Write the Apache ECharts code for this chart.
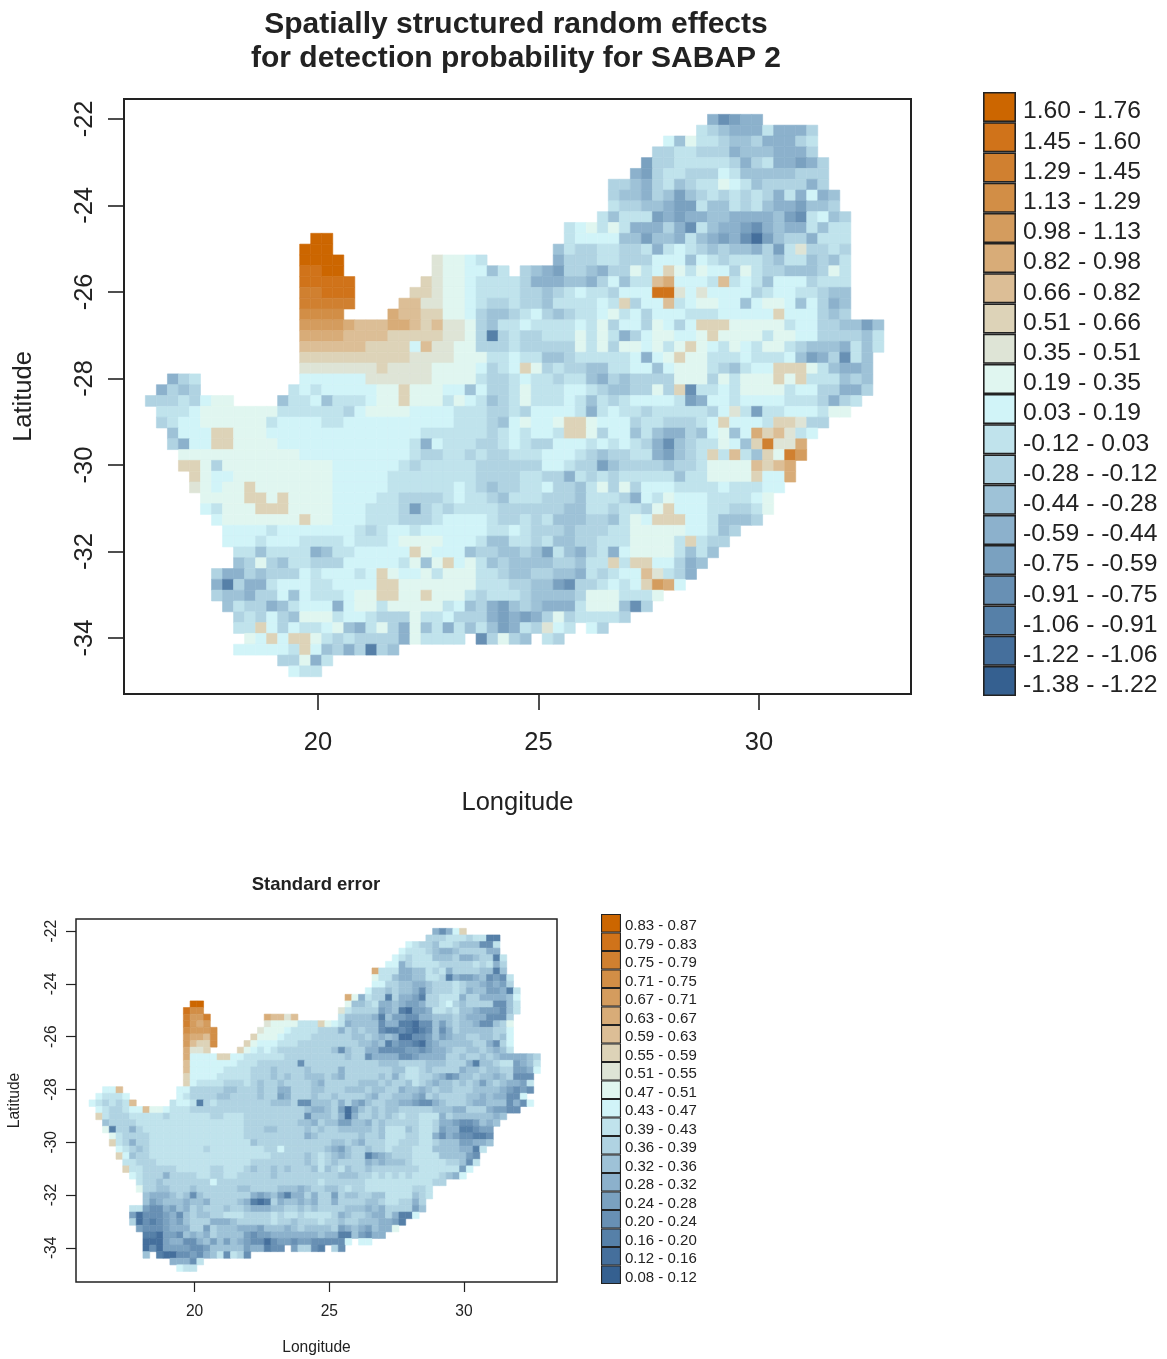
<!DOCTYPE html>
<html><head><meta charset="utf-8">
<style>html,body{margin:0;padding:0;background:#fff}#c{width:1167px;height:1359px}#c canvas{filter:blur(0.5px)}</style>
<script src="https://cdn.jsdelivr.net/npm/echarts@6/dist/echarts.min.js"></script>
</head><body><div id="c"></div>
<script>
// class colours, lowest class first
const classColors=["#356090","#456F9C","#5680A8","#6890B4","#7AA1C0","#8CB1CC","#9EC2D7","#B0D3E2","#C0E3EC","#D1F4F8","#E0F6F0","#DEE4D6","#DDD3B8","#DCBE96","#D8AC78","#D49C5E","#D28E46","#D08030","#D0731A","#CC6600"];
const topLegend=["1.60 - 1.76","1.45 - 1.60","1.29 - 1.45","1.13 - 1.29","0.98 - 1.13","0.82 - 0.98","0.66 - 0.82","0.51 - 0.66","0.35 - 0.51","0.19 - 0.35","0.03 - 0.19","-0.12 - 0.03","-0.28 - -0.12","-0.44 - -0.28","-0.59 - -0.44","-0.75 - -0.59","-0.91 - -0.75","-1.06 - -0.91","-1.22 - -1.06","-1.38 - -1.22"];
const lowLegend=["0.83 - 0.87","0.79 - 0.83","0.75 - 0.79","0.71 - 0.75","0.67 - 0.71","0.63 - 0.67","0.59 - 0.63","0.55 - 0.59","0.51 - 0.55","0.47 - 0.51","0.43 - 0.47","0.39 - 0.43","0.36 - 0.39","0.32 - 0.36","0.28 - 0.32","0.24 - 0.28","0.20 - 0.24","0.16 - 0.20","0.12 - 0.16","0.08 - 0.12"];
const lonTicks=[20,25,30];
const latTicks=[-34,-32,-30,-28,-26,-24,-22];
// grid definition (quarter-degree cells)
const lonFirst=16.21, latFirst=-22.02, cellSize=0.25;
// class index of each cell in base 20 (0 = lowest, j = highest), '.' = no data; one entry per latitude row
const topStart=[51,50,47,46,45,44,42,42,42,41,38,15,14,14,14,14,14,14,14,14,14,14,14,14,2,1,0,1,1,2,2,3,3,4,4,5,5,6,7,7,8,8,6,6,6,7,8,8,9,8,12,13];
const topCells=[
"53455","87655585557","96a88766755578","778877756665557","47788888757855457","547887779866666777","7765786788a986777757","766576467878787585956","877665448668786554667","86888454556655556438967","89a8a855575386554356558688",
"jj....................."+"89999664665865453146775888",
"jjj...................."+"6877887785898767665748b7787",
"jjjj........baa98......"+"577788777999698788876886768",
"iijj........baa9968."+"7654776577a89ca8a997a8776667a8",
"iiiii......cbaa98888"+"7555665796"+"88de9998d8"+"9869997888",
"hhiii.....ccbaa98888"+"7767898879"+"99iib9b999"+"9789988766",
"hhhhh....ddbbaa98778"+"776888898c"+"799d89aa99"+"69aa969756",
"gggg....eddccaa97667"+"89767889a8"+"9799988899"+"999c999767",
"ffffedddeedcdbba7688"+"9888898a79"+"97a979ccca"+"aaaa899776646",
"eeeeddddcccccbba7278"+"77888a8a85"+"79aa99acaa"+"aa8aa99777768",
"ddddddcccc9dbbaa7778"+"77777a8a7a"+"a9a8aca98a"+"98aa876665868",
"ccccccccccbbbbaaa889"+"8866788888"+"959acaa888"+"988896457386",
"bbbbbbbcbbbbaaaa9789"+"ca78776688"+"9969aaa876"+"899ccca86556",
"578.........999999bbbbbbaaaa8778"+"9887886576"+"7777aaa7a8"+"aaacac888676",
"5767........89899999aacaaa9969778"+"a888998766"+"77a7c38898"+"aaaa89977557",
"777879aa....688968889aacaaa8a98678"+"a888986878"+"9999845998"+"99998887578",
"8889aaaaaaa88888879aaaa9999888778"+"7999985898"+"878888879b"+"84889998aa",
"7899aaaaaa"+"8"+"9999"+"88"+"9999999999"+"888769"+"a99acca999"+"78877789c9"+"998ccb77",
"6999ccaaa"+"99999999999999"+"888888"+"789"+"8998cca799"+"68655769a6"+"9ecdb89",
"7599ccaaaa"+"999999999999"+"8598887789"+"8779998989"+"87536788a9"+"6chbbe",
"aaaaaaaaaaa"+"9999999999"+"8778878778"+"8899987677"+"8854678c8d"+"86cahf",
"cca7"+"aaaaaaaaaa"+"999999"+"87"+"88888"+"7777"+"7799877467"+"7776778aaa"+"adcde",
"ca99"+"aaaaaaaaa"+"99999"+"88888888"+"7777"+"8877587878"+"8888688aaa"+"ac99e",
"ba9aac"+"aaaaaaa"+"99999"+"888888"+"987677"+"8897768a7a"+"7999888898"+"8899",
"aaaa"+"ccac"+"aaaa"+"9999"+"8877778988768"+"8877768887"+"598a999888"+"89a",
"98aaaccc"+"aaaa"+"999"+"88874787888877"+"7777668878"+"87ac999887"+"78a",
"9"+"aaaaaaa"+"c"+"aa"+"999"+"8887778"+"9999"+"877"+"8786667768"+"a9ccc99866"+"67",
"9999"+"8"+"9999999"+"878998"+"999999"+"889"+"8777677788"+"aaaaa99867",
"9998"+"999"+"8888"+"9"+"888"+"9"+"aaaa"+"999"+"8668"+"8786677888"+"aaaa8c877",
"886"+"8888"+"56"+"88"+"99999"+"c"+"a"+"999"+"67766"+"7648657859"+"aaaa8686",
"67a7688"+"777"+"99999"+"8"+"a6ac9a8676"+"66677688c8"+"cc99756",
"75576"+"777"+"9899989ca99a8aaa"+"8876"+"6776658789"+"9db875",
"52755899988"+"9999"+"cc"+"aaaaaaa"+"8887"+"7664377898"+"9cfe9",
"766577969888"+"9aa"+"cc"+"aa"+"c"+"aaa"+"87888"+"766667aaa888a",
"6877568"+"999"+"5"+"9"+"aa"+"8"+"aaaaa"+"8967546"+"765558aaa637",
"787976"+"aaa8998"+"777a889"+"777545"+"457a788887",
"88c97988"+"9a658a75"+"a6858686"+"45"+"87b98.97",
"a9c9cca8"+"7877775a"+"8888.37a7"+"6.87",
"999998c96757276","77a58","988"];
const lowStart=[51,50,47,46,45,44,42,42,42,41,38,15,14,14,14,14,14,14,14,14,14,14,14,14,2,1,0,1,1,2,2,3,3,4,4,5,5,6,7,7,8,8,6,6,6,7,8,8,8,8,12,13];
const lowCells=[
"5359c","77788878822","98776887666338","988876556777755","98788866675567728","995788887777787857",
"e8885566"+"87857777"+"6626","a8865566"+"88725445"+"63438","99776655"+"67778766"+"54547","97767665"+"36777875"+"6644528",
"ea587727"+"55427788"+"85775555"+"69",
"jj....................."+"a6678556"+"54457789"+"76777733"+"68",
"igg...................."+"b8777745"+"62144588"+"78665444"+"368",
"hffh........eddbd......"+"86666526"+"44335566"+"67655533"+"37",
"hfef........baaaa888"+"ca985666"+"63552213"+"36467665"+"3367a",
"gfffg......baaa98888"+"77757676"+"63223212"+"36357666"+"66779",
"feedg.....caaa988887"+"77777667"+"65651133"+"46456677"+"66769",
"fdccg....ca999888777"+"77777766"+"56243321"+"45666667"+"75379",
"ebbc....ca9898777777"+"77636775"+"53333443"+"45567766"+"76568",
"e9999cc"+"9988888877777"+"77776773"+"55553345"+"55577677"+"676555567",
"d9999999"+"888"+"777777"+"377"+"77777777"+"76667777"+"66677752"+"667884568",
"d99999"+"8888"+"7776777767"+"77757777"+"77766887"+"67777566"+"766774459",
"c9999"+"88888"+"7776767766"+"67657777"+"76757887"+"76534667"+"66567333",
"c98888"+"77787677"+"677776"+"57777766"+"67677687"+"65667676"+"46765548",
"99d........"+"99"+"77777"+"66"+"777"+"677557776"+"67776667"+"66775665"+"67667776"+"66654343",
"98889......."+"98"+"7777"+"66"+"7777"+"677457776"+"77677776"+"57766654"+"76777766"+"5655339",
"987878d....."+"89982787"+"77777776"+"667336"+"66757546"+"77665543"+"35677765"+"56663539",
"9877899daa9"+"888"+"7777777777777777"+"765"+"56741467"+"67667777"+"76665577"+"754433",
"c8777888887"+"888888"+"77"+"888"+"777777777"+"36"+"66751577"+"67678778"+"88576666"+"6656",
"67777"+"8888888888888888"+"77777777"+"665"+"76644665"+"76777778"+"87554334"+"656",
"a27757"+"888888888888888"+"77766777767"+"67766666"+"76888678"+"87455223"+"44",
"a877778"+"8888888888888"+"777777777"+"56"+"77777767"+"76888778"+"85354332"+"23",
"c875778"+"88888888888888"+"6"+"777777777"+"77667657"+"77887778"+"87666445"+"56",
"987678"+"8888888"+"7"+"88888888"+"77977777"+"76546776"+"77877788"+"86666552"+"8",
"c96778"+"88888888888888888"+"77777"+"67"+"87656772"+"45677788"+"88666643",
"88777"+"88888888888888"+"77777777"+"67"+"87677775"+"65666788"+"88877638",
"c8877777"+"88888"+"77"+"888"+"76776767776"+"86786776"+"77777778"+"8888849",
"98777577"+"77887788"+"777776"+"777777"+"77766677"+"87878788"+"887659",
"8776777777797"+"77777777777777"+"87777778"+"88888888"+"877",
"a77667776"+"777777"+"667777666567"+"76678778"+"88888877"+"8",
"655567636"+"7777777"+"5456425575"+"77476677"+"66888867"+"8",
"6456665665"+"7777"+"652127566565"+"77577776"+"67887757",
"88433546"+"57677767"+"76555667"+"7676"+"77776665"+"65777746",
"41333453"+"67667788"+"87777878"+"8788"+"88756776"+"5575229",
"71323454"+"67775556"+"77777877"+"6777"+"87767766"+"65542",
"43334555"+"77476665"+"55466656"+"766"+"66745654"+"655a",
"22144365"+"65766664"+"34455555"+"55"+"6552264355",
"11145533"+"56464654"+"33134434"+"43"+"33339.99",
"13144443"+"34666664"+"55233.47"+"73"+"2.73",
"6.21133435683873","55538","988"];

function cells(starts,rows){
  const out=[];
  rows.forEach((row,r)=>{
    for(let i=0;i<row.length;i++){
      if(row[i]==='.')continue;
      out.push([lonFirst+cellSize*(starts[r]+i),latFirst-cellSize*r,parseInt(row[i],20)]);
    }
  });
  return out;
}
const ink='#222';
function renderCell(params,api){
  const lon=api.value(0),lat=api.value(1),k=api.value(2);
  const a=api.coord([lon-cellSize/2,lat+cellSize/2]),b=api.coord([lon+cellSize/2,lat-cellSize/2]);
  return {type:'rect',shape:{x:a[0],y:a[1],width:b[0]-a[0],height:b[1]-a[1]},
    style:{fill:classColors[k],stroke:classColors[k],lineWidth:0.6}};
}
const font='"Liberation Sans",Arial,sans-serif';
function mapAxes(g,fs,tick,lw,lblX,lblY,nameX,nameY){
  return {
   x:{type:'value',gridIndex:g,min:15.6,max:33.45,name:'Longitude',nameLocation:'middle',nameGap:nameX,
      nameTextStyle:{fontFamily:font,fontSize:fs,color:ink},splitLine:{show:false},
      axisLine:{show:false},
      axisTick:{show:true,length:tick,lineStyle:{color:ink,width:lw},customValues:lonTicks},
      axisLabel:{show:true,margin:lblX,fontFamily:font,fontSize:fs,color:ink,customValues:lonTicks}},
   y:{type:'value',gridIndex:g,min:-35.295,max:-21.54,name:'Latitude',nameLocation:'middle',nameGap:nameY,nameRotate:90,
      nameTextStyle:{fontFamily:font,fontSize:fs,color:ink},splitLine:{show:false},
      axisLine:{show:false},
      axisTick:{show:true,length:tick,lineStyle:{color:ink,width:lw},customValues:latTicks},
      axisLabel:{show:true,margin:lblY,rotate:90,align:'center',verticalAlign:'bottom',fontFamily:font,fontSize:fs,color:ink,customValues:latTicks}}
  };
}
const topA=mapAxes(0,25.5,16,1.6,36,26,96,87);
const lowA=mapAxes(1,15.6,10,1.2,22,16,58,53);
function legendBars(labels,xi,yi,lw){
  return {type:'bar',xAxisIndex:xi,yAxisIndex:yi,barWidth:'100%',silent:true,
    data:labels.map((l,i)=>({value:1,itemStyle:{color:classColors[19-i],borderColor:ink,borderWidth:lw}}))};
}
function legendAxes(g,labels,fs,m,pad){
  return {
    x:{type:'value',gridIndex:g,min:0,max:1,show:false},
    y:{type:'category',gridIndex:g,inverse:true,position:'right',data:labels,axisLine:{show:false},axisTick:{show:false},
       axisLabel:{interval:0,margin:m,align:'left',formatter:v=>'{t|'+v+'}',
         rich:{t:{fontFamily:font,fontSize:fs,color:ink,padding:[pad,0,0,0]}}}}
  };
}
const lgA=legendAxes(2,topLegend,24.7,7,9),lgB=legendAxes(3,lowLegend,15,4,6);
const chart=echarts.init(document.getElementById('c'),null,{renderer:'canvas'});
chart.setOption({
  animation:false,backgroundColor:'#fff',
  title:[
    {text:'Spatially structured random effects\nfor detection probability for SABAP 2',left:511,top:3,textAlign:'center',
     textStyle:{fontFamily:font,fontWeight:'bold',fontSize:30,lineHeight:34,color:ink}},
    {text:'Standard error',left:311,top:870,textAlign:'center',textStyle:{fontFamily:font,fontWeight:'bold',fontSize:18.5,color:ink}}
  ],
  grid:[
    {left:124,top:99,width:787,height:595,show:true,borderColor:ink,borderWidth:2,backgroundColor:'transparent',outerBoundsMode:'none'},
    {left:76,top:919,width:481,height:363,show:true,borderColor:ink,borderWidth:1.5,backgroundColor:'transparent',outerBoundsMode:'none'},
    {left:983,top:92,width:33,height:604,outerBoundsMode:'none'},
    {left:601,top:914,width:20,height:370,outerBoundsMode:'none'}
  ],
  xAxis:[topA.x,lowA.x,lgA.x,lgB.x],
  yAxis:[topA.y,lowA.y,lgA.y,lgB.y],
  series:[
    {type:'custom',xAxisIndex:0,yAxisIndex:0,renderItem:renderCell,encode:{x:0,y:1},data:cells(topStart,topCells),silent:true},
    {type:'custom',xAxisIndex:1,yAxisIndex:1,renderItem:renderCell,encode:{x:0,y:1},data:cells(lowStart,lowCells),silent:true},
    legendBars(topLegend,2,2,1.6),
    legendBars(lowLegend,3,3,1.1)
  ]
});
</script></body></html>
